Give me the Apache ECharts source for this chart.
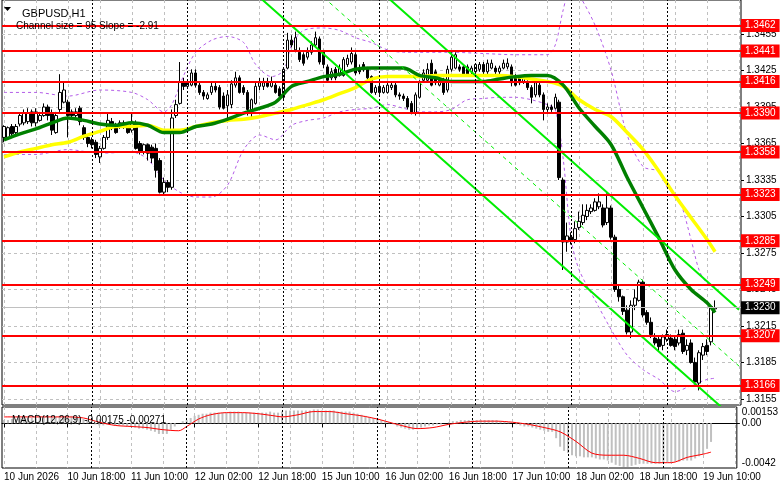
<!DOCTYPE html>
<html>
<head>
<meta charset="utf-8">
<title>GBPUSD,H1</title>
<script src="https://cdn.jsdelivr.net/npm/echarts@6/dist/echarts.min.js"></script>
<style>
  html, body { margin: 0; padding: 0; background: #fff; }
  #main { width: 781px; height: 489px; }
</style>
</head>
<body>
<div id="main"></div>
<script>
// hourly bars, first one is 10 Jun 02:00, a few empty slots after the last candle
var days = ['10 Jun', '11 Jun', '12 Jun', '15 Jun', '16 Jun', '17 Jun', '18 Jun', '19 Jun'];
var categories = [];
days.forEach(function (d, k) {
  var from = k === 0 ? 2 : 0;
  var to = k === days.length - 1 ? 18 : 23;
  for (var h = from; h <= to; h++) categories.push(d + ' ' + (h < 10 ? '0' : '') + h + ':00');
});
var firstLabel = '10 Jun 2026';

// open, close, low, high
var ohlc = [
  [1.3370,1.3379,1.3366,1.3380],[1.3370,1.3378,1.3369,1.3379],[1.3379,1.3373,1.3371,1.3381],[1.3374,1.3379,1.3372,1.3381],
  [1.3381,1.3388,1.3379,1.3390],[1.3382,1.3390,1.3380,1.3393],[1.3383,1.3390,1.3381,1.3394],[1.3391,1.3382,1.3379,1.3393],
  [1.3382,1.3391,1.3379,1.3394],[1.3384,1.3388,1.3383,1.3391],[1.3388,1.3395,1.3387,1.3398],[1.3395,1.3388,1.3384,1.3397],
  [1.3390,1.3376,1.3372,1.3393],[1.3374,1.3388,1.3373,1.3391],[1.3393,1.3407,1.3391,1.3422],[1.3399,1.3409,1.3398,1.3416],
  [1.3399,1.3388,1.3370,1.3401],[1.3391,1.3388,1.3386,1.3393],[1.3388,1.3391,1.3386,1.3394],[1.3394,1.3383,1.3380,1.3396],
  [1.3378,1.3370,1.3368,1.3380],[1.3370,1.3365,1.3362,1.3372],[1.3368,1.3364,1.3361,1.3370],[1.3366,1.3356,1.3353,1.3368],
  [1.3354,1.3361,1.3349,1.3363],[1.3361,1.3370,1.3360,1.3372],[1.3370,1.3384,1.3368,1.3390],[1.3383,1.3378,1.3376,1.3386],
  [1.3380,1.3374,1.3373,1.3382],[1.3379,1.3382,1.3377,1.3384],[1.3382,1.3379,1.3377,1.3384],[1.3380,1.3374,1.3373,1.3382],
  [1.3376,1.3382,1.3374,1.3390],[1.3382,1.3361,1.3360,1.3384],[1.3365,1.3358,1.3356,1.3367],[1.3358,1.3364,1.3356,1.3365],
  [1.3364,1.3357,1.3351,1.3365],[1.3362,1.3353,1.3349,1.3364],[1.3361,1.3343,1.3337,1.3365],[1.3351,1.3325,1.3324,1.3353],
  [1.3325,1.3333,1.3323,1.3337],[1.3333,1.3329,1.3325,1.3335],[1.3329,1.3386,1.3327,1.3393],[1.3388,1.3397,1.3386,1.3401],
  [1.3398,1.3416,1.3397,1.3432],[1.3416,1.3412,1.3409,1.3419],[1.3412,1.3415,1.3410,1.3417],[1.3413,1.3423,1.3412,1.3426],
  [1.3423,1.3413,1.3411,1.3426],[1.3413,1.3407,1.3405,1.3415],[1.3407,1.3404,1.3401,1.3409],[1.3402,1.3405,1.3401,1.3407],
  [1.3407,1.3412,1.3405,1.3416],[1.3412,1.3409,1.3407,1.3415],[1.3411,1.3395,1.3393,1.3413],[1.3404,1.3394,1.3393,1.3407],
  [1.3396,1.3405,1.3384,1.3409],[1.3397,1.3414,1.3394,1.3417],[1.3413,1.3419,1.3411,1.3424],[1.3419,1.3407,1.3406,1.3421],
  [1.3411,1.3407,1.3405,1.3413],[1.3407,1.3393,1.3388,1.3409],[1.3391,1.3401,1.3386,1.3402],[1.3398,1.3412,1.3397,1.3415],
  [1.3412,1.3415,1.3409,1.3419],[1.3412,1.3415,1.3409,1.3419],[1.3416,1.3412,1.3411,1.3419],[1.3412,1.3416,1.3411,1.3420],
  [1.3413,1.3407,1.3406,1.3416],[1.3410,1.3404,1.3402,1.3412],[1.3403,1.3426,1.3401,1.3427],[1.3427,1.3450,1.3426,1.3456],
  [1.3450,1.3446,1.3444,1.3454],[1.3442,1.3452,1.3440,1.3457],[1.3440,1.3434,1.3432,1.3444],[1.3438,1.3431,1.3429,1.3440],
  [1.3436,1.3440,1.3434,1.3444],[1.3440,1.3446,1.3438,1.3449],[1.3446,1.3452,1.3444,1.3457],[1.3451,1.3432,1.3430,1.3453],
  [1.3440,1.3430,1.3427,1.3442],[1.3428,1.3417,1.3416,1.3430],[1.3419,1.3424,1.3417,1.3427],[1.3426,1.3419,1.3417,1.3428],
  [1.3421,1.3427,1.3420,1.3430],[1.3421,1.3434,1.3420,1.3436],[1.3430,1.3435,1.3428,1.3438],[1.3432,1.3439,1.3430,1.3444],
  [1.3438,1.3423,1.3421,1.3440],[1.3427,1.3424,1.3422,1.3430],[1.3430,1.3426,1.3424,1.3432],[1.3426,1.3419,1.3417,1.3428],
  [1.3420,1.3407,1.3406,1.3421],[1.3407,1.3411,1.3405,1.3413],[1.3412,1.3407,1.3405,1.3414],[1.3407,1.3411,1.3406,1.3413],
  [1.3407,1.3413,1.3406,1.3416],[1.3411,1.3413,1.3409,1.3416],[1.3413,1.3405,1.3403,1.3415],[1.3405,1.3404,1.3401,1.3407],
  [1.3404,1.3402,1.3400,1.3406],[1.3402,1.3395,1.3393,1.3404],[1.3398,1.3391,1.3389,1.3400],[1.3390,1.3405,1.3388,1.3407],
  [1.3403,1.3415,1.3402,1.3417],[1.3417,1.3423,1.3416,1.3426],[1.3417,1.3426,1.3416,1.3431],[1.3431,1.3413,1.3412,1.3434],
  [1.3424,1.3415,1.3413,1.3426],[1.3413,1.3417,1.3412,1.3420],[1.3417,1.3407,1.3405,1.3419],[1.3409,1.3426,1.3407,1.3429],
  [1.3426,1.3436,1.3424,1.3440],[1.3427,1.3438,1.3426,1.3440],[1.3428,1.3426,1.3424,1.3430],[1.3428,1.3421,1.3420,1.3430],
  [1.3428,1.3421,1.3420,1.3430],[1.3424,1.3427,1.3422,1.3429],[1.3424,1.3430,1.3422,1.3431],[1.3426,1.3430,1.3424,1.3432],
  [1.3430,1.3424,1.3422,1.3432],[1.3424,1.3431,1.3422,1.3434],[1.3427,1.3431,1.3426,1.3434],[1.3427,1.3424,1.3422,1.3429],
  [1.3424,1.3427,1.3422,1.3429],[1.3427,1.3431,1.3426,1.3434],[1.3428,1.3431,1.3426,1.3435],[1.3428,1.3415,1.3412,1.3430],
  [1.3420,1.3413,1.3412,1.3422],[1.3419,1.3415,1.3413,1.3421],[1.3416,1.3419,1.3414,1.3421],[1.3416,1.3411,1.3409,1.3417],
  [1.3411,1.3403,1.3398,1.3413],[1.3405,1.3415,1.3403,1.3417],[1.3413,1.3405,1.3403,1.3415],[1.3405,1.3393,1.3384,1.3407],
  [1.3393,1.3395,1.3391,1.3398],[1.3395,1.3393,1.3391,1.3397],[1.3394,1.3403,1.3393,1.3406],[1.3399,1.3337,1.3335,1.3401],
  [1.3335,1.3284,1.3261,1.3337],[1.3284,1.3289,1.3276,1.3300],[1.3288,1.3285,1.3282,1.3292],[1.3286,1.3295,1.3283,1.3301],
  [1.3296,1.3301,1.3294,1.3309],[1.3300,1.3306,1.3298,1.3315],[1.3305,1.3310,1.3302,1.3315],[1.3309,1.3312,1.3307,1.3315],
  [1.3310,1.3317,1.3309,1.3320],[1.3313,1.3317,1.3311,1.3324],[1.3312,1.3298,1.3296,1.3315],[1.3300,1.3312,1.3298,1.3324],
  [1.3312,1.3288,1.3286,1.3314],[1.3288,1.3245,1.3243,1.3290],[1.3245,1.3239,1.3235,1.3249],[1.3239,1.3227,1.3224,1.3240],
  [1.3228,1.3210,1.3208,1.3232],[1.3210,1.3232,1.3205,1.3236],[1.3232,1.3238,1.3228,1.3245],[1.3236,1.3251,1.3235,1.3253],
  [1.3251,1.3224,1.3222,1.3253],[1.3226,1.3218,1.3216,1.3228],[1.3218,1.3208,1.3205,1.3222],[1.3205,1.3201,1.3199,1.3209],
  [1.3204,1.3198,1.3194,1.3206],[1.3199,1.3206,1.3195,1.3208],[1.3204,1.3208,1.3202,1.3212],[1.3205,1.3199,1.3198,1.3208],
  [1.3204,1.3198,1.3195,1.3206],[1.3201,1.3208,1.3199,1.3212],[1.3209,1.3194,1.3192,1.3212],[1.3195,1.3199,1.3191,1.3204],
  [1.3201,1.3185,1.3184,1.3204],[1.3185,1.3169,1.3167,1.3189],[1.3168,1.3193,1.3162,1.3195],[1.3191,1.3198,1.3187,1.3201],
  [1.3199,1.3194,1.3191,1.3204],[1.3202,1.3231,1.3199,1.3232],[1.3229,1.3230,1.3227,1.3236]
];

// moving averages: [bar index, price]
var maGreen = [[0,1.3368],[4,1.3373],[8,1.3377],[12,1.3382],[16,1.3386],[20,1.3384],[24,1.3381],[28,1.3380],[32,1.3382],[36,1.3380],
  [40,1.3374],[44,1.3374],[48,1.3379],[52,1.3381],[56,1.3385],[60,1.3390],[64,1.3394],[68,1.3399],[72,1.3412],[76,1.3416],
  [80,1.3420],[84,1.3422],[88,1.3426],[92,1.3427],[96,1.3427],[100,1.3427],[104,1.3421],[108,1.3419],[112,1.3416],[116,1.3416],
  [120,1.3416],[124,1.3418],[128,1.3420],[132,1.3421],[136,1.3421],[140,1.3413],[144,1.3394],[148,1.3379],[152,1.3364],[156,1.3337],
  [160,1.3312],[164,1.3287],[168,1.3261],[172,1.3245],[176,1.3234],[178,1.3226]];
var maYellow = [[0,1.3354],[4,1.3358],[8,1.3361],[12,1.3364],[16,1.3366],[20,1.3371],[24,1.3375],[28,1.3379],[32,1.3379],[36,1.3380],
  [40,1.3376],[44,1.3376],[48,1.3379],[52,1.3382],[56,1.3384],[60,1.3385],[64,1.3387],[68,1.3390],[72,1.3393],[76,1.3397],
  [80,1.3401],[84,1.3406],[88,1.3411],[92,1.3418],[96,1.3420],[100,1.3420],[104,1.3420],[108,1.3421],[112,1.3421],[116,1.3421],
  [120,1.3421],[124,1.3421],[128,1.3420],[132,1.3418],[136,1.3416],[140,1.3412],[144,1.3401],[148,1.3393],[152,1.3387],[156,1.3374],
  [160,1.3360],[164,1.3342],[168,1.3322],[172,1.3304],[176,1.3286],[178,1.3276]];

// envelope bands (violet dashed)
var bandUpper = [[0,1.3407],[8,1.3407],[16,1.3404],[24,1.3409],[32,1.3407],[36,1.3401],[40,1.3391],[42,1.3397],[45,1.3421],[48,1.3440],
  [52,1.3450],[56,1.3453],[60,1.3448],[63,1.3430],[67,1.3420],[70,1.3425],[72,1.3446],[75,1.3458],[80,1.3460],[84,1.3458],
  [88,1.3452],[92,1.3448],[96,1.3442],[100,1.3440],[112,1.3440],[120,1.3439],[128,1.3438],[136,1.3438],[138,1.3446],[140,1.3475],
  [142,1.3495],[144,1.3487],[148,1.3462],[152,1.3425],[156,1.3372],[160,1.3346],[164,1.3342],[166,1.3329],[169,1.3319],[172,1.3286],
  [174,1.3261],[176,1.3250],[178,1.3247]];
var bandLower = [[0,1.3356],[8,1.3356],[16,1.3360],[24,1.3357],[32,1.3358],[36,1.3352],[40,1.3335],[44,1.3325],[48,1.3321],[52,1.3321],
  [56,1.3331],[60,1.3360],[64,1.3372],[68,1.3368],[72,1.3380],[76,1.3384],[80,1.3386],[84,1.3391],[88,1.3393],[92,1.3394],
  [96,1.3397],[100,1.3394],[104,1.3391],[108,1.3391],[112,1.3393],[116,1.3401],[120,1.3402],[124,1.3403],[128,1.3403],[132,1.3401],
  [136,1.3397],[138,1.3393],[140,1.3352],[142,1.3286],[144,1.3261],[148,1.3236],[152,1.3212],[156,1.3191],[160,1.3179],[164,1.3171],
  [168,1.3161],[172,1.3166],[176,1.3171],[178,1.3172]];

// regression channel: two end points per line
var channelUpper = [[96,1.34852],[184,1.32283]];
var channelMid = [[80,1.34852],[184,1.31820]];
var channelLower = [[64,1.34852],[180,1.31471]];

var levels = [1.3462, 1.3441, 1.3416, 1.3390, 1.3358, 1.3323, 1.3285, 1.3249, 1.3207, 1.3166];
var lastPrice = 1.3230;
var priceTicks = [1.3155, 1.3185, 1.3215, 1.3245, 1.3275, 1.3305, 1.3335, 1.3365, 1.3395, 1.3425, 1.3455];

// MACD(12,26,9): histogram per bar and signal line
var macdMain = [
  0.0003,0.0003,0.0004,0.0004,0.0005,0.0005,0.0005,0.0005,0.0006,0.0006,0.0006,0.0006,0.0006,0.0006,0.0007,0.0007,0.0007,0.0007,0.0006,0.0005,
  0.0004,0.0003,0.0001,-0.0001,-0.0002,-0.0002,-0.0001,-0.0001,-0.0002,-0.0002,-0.0002,-0.0003,-0.0003,-0.0004,-0.0005,-0.0005,-0.0006,-0.0007,-0.0008,-0.0010,
  -0.0010,-0.0010,-0.0006,-0.0003,0.0000,0.0002,0.0003,0.0005,0.0007,0.0008,0.0009,0.0009,0.0010,0.0010,0.0010,0.0010,0.0010,0.0011,0.0011,0.0011,
  0.0010,0.0010,0.0010,0.0010,0.0010,0.0010,0.0010,0.0011,0.0010,0.0010,0.0011,0.0012,0.0012,0.0012,0.0012,0.0012,0.0012,0.0012,0.0013,0.0013,
  0.0012,0.0012,0.0012,0.0012,0.0011,0.0011,0.0011,0.0011,0.0010,0.0009,0.0008,0.0007,0.0006,0.0005,0.0004,0.0003,0.0002,0.0001,-0.0001,-0.0003,
  -0.0004,-0.0005,-0.0006,-0.0006,-0.0005,-0.0004,-0.0003,-0.0002,-0.0002,-0.0001,-0.0001,0.0000,0.0001,0.0002,0.0002,0.0003,0.0003,0.0003,0.0003,0.0003,
  0.0003,0.0003,0.0003,0.0003,0.0003,0.0002,0.0002,0.0001,0.0000,-0.0001,-0.0002,-0.0003,-0.0003,-0.0004,-0.0005,-0.0006,-0.0007,-0.0008,-0.0008,-0.0014,
  -0.0022,-0.0026,-0.0028,-0.0030,-0.0031,-0.0031,-0.0032,-0.0032,-0.0032,-0.0033,-0.0034,-0.0034,-0.0035,-0.0037,-0.0039,-0.0040,-0.0041,-0.0041,-0.0040,-0.0039,
  -0.0038,-0.0038,-0.0038,-0.0038,-0.0038,-0.0038,-0.0037,-0.0037,-0.0037,-0.0036,-0.0036,-0.0035,-0.0035,-0.0035,-0.0033,-0.0031,-0.0029,-0.0024,-0.00175
];
var macdSignal = [[0,0.0006],[4,0.0006],[8,0.0006],[12,0.0006],[16,0.0006],[20,0.0005],[24,0.0001],[28,-0.0002],[32,-0.0003],[36,-0.0004],
  [40,-0.0006],[44,-0.0007],[46,-0.0003],[49,0.0004],[52,0.0008],[56,0.0010],[60,0.0010],[64,0.0009],[68,0.0007],[70,0.0006],
  [74,0.0008],[78,0.0011],[82,0.0011],[86,0.0009],[90,0.0007],[94,0.0004],[96,0.0002],[100,-0.0002],[104,-0.0005],[108,-0.0004],
  [112,-0.0001],[116,0.0001],[120,0.0002],[124,0.0002],[128,0.0001],[132,-0.0001],[136,-0.0004],[140,-0.0008],[144,-0.0017],[148,-0.0028],
  [152,-0.0030],[156,-0.0030],[160,-0.0033],[164,-0.0037],[168,-0.0037],[172,-0.0032],[176,-0.0029],[178,-0.00271]];

var FONT = 'Liberation Sans';
var daySeparators = [];
categories.forEach(function (c, i) { if (i > 0 && c.slice(-5) === '00:00') daySeparators.push({ xAxis: i }); });

function levelLine(v, bg, lineColor, width) {
  return {
    yAxis: v,
    lineStyle: { color: lineColor, width: width, type: 'solid' },
    label: {
      show: true, position: 'end', distance: 0, formatter: v.toFixed(4),
      color: '#fff', backgroundColor: bg, padding: [1, 4, 1, 4], lineHeight: 11,
      fontSize: 10, fontFamily: FONT
    }
  };
}

var levelData = [levelLine(lastPrice, '#000', '#c0c0c0', 1)];
levels.forEach(function (v) { levelData.push(levelLine(v, '#ff0000', '#ff0000', 2)); });

var xSplit = { show: true, interval: function (i) { return i % 8 === 0; }, alignWithLabel: true,
  lineStyle: { color: '#c0c0c0', type: [3, 3], width: 1 } };

var chart = echarts.init(document.getElementById('main'));
chart.setOption({
  animation: false,
  backgroundColor: '#fff',
  textStyle: { fontFamily: FONT },
  title: [
    { text: 'GBPUSD,H1', left: 17, top: 3, z: 20, textStyle: { fontSize: 11, fontWeight: 'normal', color: '#000', fontFamily: FONT } },
    { text: 'Channel size = 95 Slope = -2.91', left: 11, top: 16, z: 20, textStyle: { fontSize: 10, fontWeight: 'normal', color: '#000', fontFamily: FONT } },
    { text: 'MACD(12,26,9) -0.00175 -0.00271', left: 7, top: 410, z: 20, textStyle: { fontSize: 10, fontWeight: 'normal', color: '#000', fontFamily: FONT } }
  ],
  graphic: [{ type: 'polygon', z: 20, shape: { points: [[4, 7], [11, 7], [7.5, 11]] }, style: { fill: '#000' } }],
  grid: [
    { left: 2, right: 40, top: 0, height: 405, show: true, borderColor: '#000', borderWidth: 1 },
    { left: 2, right: 40, top: 407, height: 61, show: true, borderColor: '#000', borderWidth: 1 }
  ],
  xAxis: [
    { type: 'category', gridIndex: 0, data: categories, boundaryGap: true,
      axisLine: { show: false }, axisTick: { show: false }, axisLabel: { show: false }, splitLine: xSplit },
    { type: 'category', gridIndex: 1, data: categories, boundaryGap: true,
      axisLine: { show: true, lineStyle: { color: '#000' } },
      axisTick: { show: true, alignWithLabel: true, length: 4, interval: function (i) { return i % 16 === 0; }, lineStyle: { color: '#000' } },
      axisLabel: { interval: function (i) { return i % 16 === 0; }, align: 'left', margin: 4, fontSize: 10, color: '#000', fontFamily: FONT,
        formatter: function (v, i) { return i === 0 ? firstLabel : v; } },
      splitLine: xSplit }
  ],
  yAxis: [
    { type: 'value', gridIndex: 0, position: 'right', min: 1.3150, max: 1.3483,
      axisLine: { show: false },
      axisTick: { show: true, customValues: priceTicks, length: 3, lineStyle: { color: '#000' } },
      axisLabel: { customValues: priceTicks, formatter: function (v) { return v.toFixed(4); }, color: '#000', fontSize: 10, margin: 5, fontFamily: FONT },
      splitLine: { show: true, lineStyle: { color: '#c0c0c0', type: [3, 3] } } },
    { type: 'value', gridIndex: 1, position: 'right', min: -0.0042, max: 0.00153,
      axisLine: { show: false },
      axisTick: { show: true, customValues: [0], length: 3, lineStyle: { color: '#000' } },
      axisLabel: { customValues: [-0.0042, 0, 0.00153], showMinLabel: true, showMaxLabel: true,
        verticalAlignMinLabel: 'bottom', verticalAlignMaxLabel: 'top',
        formatter: function (v) { return v === 0 ? '0.00' : (v > 0 ? '0.00153' : '-0.0042'); },
        color: '#000', fontSize: 10, margin: 5, fontFamily: FONT },
      splitLine: { show: true, lineStyle: { color: '#c0c0c0', type: [3, 3] } } }
  ],
  series: [
    { type: 'candlestick', xAxisIndex: 0, yAxisIndex: 0, data: ohlc, barWidth: 3, z: 3,
      itemStyle: { color: '#fff', color0: '#000', borderColor: '#000', borderColor0: '#000', borderWidth: 1 },
      markLine: { silent: true, symbol: ['none', 'none'], animation: false,
        data: daySeparators.map(function (d) { return { xAxis: d.xAxis, label: { show: false }, lineStyle: { color: '#000', type: [2, 2], width: 1 } }; }) } },
    { type: 'line', xAxisIndex: 0, yAxisIndex: 0, data: bandUpper, showSymbol: false, smooth: 0.3, z: 3,
      lineStyle: { color: '#b35ce8', width: 1, type: [3, 3] } },
    { type: 'line', xAxisIndex: 0, yAxisIndex: 0, data: bandLower, showSymbol: false, smooth: 0.3, z: 3,
      lineStyle: { color: '#b35ce8', width: 1, type: [3, 3] } },
    { type: 'line', xAxisIndex: 0, yAxisIndex: 0, data: maYellow, showSymbol: false, smooth: 0.3, z: 4,
      lineStyle: { color: '#ffff00', width: 3.5 } },
    { type: 'line', xAxisIndex: 0, yAxisIndex: 0, data: maGreen, showSymbol: false, smooth: 0.3, z: 4,
      lineStyle: { color: '#008000', width: 3.5 } },
    { type: 'line', xAxisIndex: 0, yAxisIndex: 0, data: channelUpper, showSymbol: false, z: 4,
      lineStyle: { color: '#00ee00', width: 2 } },
    { type: 'line', xAxisIndex: 0, yAxisIndex: 0, data: channelMid, showSymbol: false, z: 4,
      lineStyle: { color: '#00ee00', width: 1, type: [4, 4] } },
    { type: 'line', xAxisIndex: 0, yAxisIndex: 0, data: channelLower, showSymbol: false, z: 4,
      lineStyle: { color: '#00ee00', width: 2 },
      markLine: { silent: true, symbol: ['none', 'none'], animation: false, precision: 5, z: 5, data: levelData } },
    { type: 'bar', xAxisIndex: 1, yAxisIndex: 1, data: macdMain, barWidth: 2, itemStyle: { color: '#c0c0c0' },
      markLine: { silent: true, symbol: ['none', 'none'], animation: false,
        data: daySeparators.map(function (d) { return { xAxis: d.xAxis, label: { show: false }, lineStyle: { color: '#000', type: [2, 2], width: 1 } }; }) } },
    { type: 'line', xAxisIndex: 1, yAxisIndex: 1, data: macdSignal, showSymbol: false, smooth: 0.3,
      lineStyle: { color: '#ff0000', width: 1 } }
  ]
});
</script>
</body>
</html>
